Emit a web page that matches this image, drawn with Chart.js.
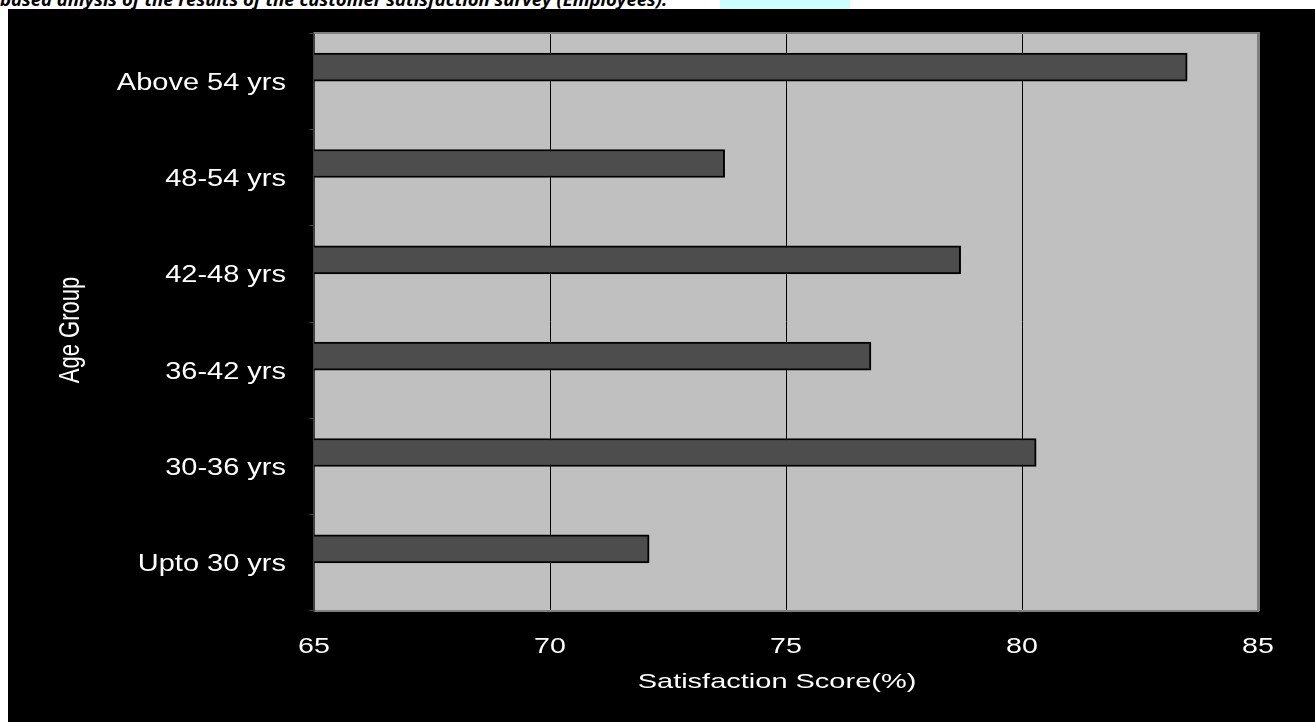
<!DOCTYPE html>
<html>
<head>
<meta charset="utf-8">
<title>Satisfaction Score by Age Group</title>
<script src="https://cdn.jsdelivr.net/npm/chart.js@4.4.0/dist/chart.umd.min.js"></script>
<style>
    html, body { margin: 0; padding: 0; background: #fff; width: 1315px; height: 722px; overflow: hidden; }
    .caption {
        position: absolute; left: 0; top: -10px;
        font: italic bold 18.5px "Open Sans", sans-serif; line-height: 18px;
        white-space: nowrap; color: #000;
    }
    .highlight { position: absolute; left: 720px; top: 0; width: 130px; height: 9px; background: #ccffff; }
    .chartBox { position: absolute; left: 8px; top: 9px; width: 1307px; height: 713px; background: #000; }
</style>
</head>
<body>
<div class="highlight"></div>
<div class="caption">based anlysis of the results of the customer satisfaction survey (Employees).</div>
<div class="chartBox"><canvas id="chart"></canvas></div>
<script>
const ageGroups = ['Upto 30 yrs', '30-36 yrs', '36-42 yrs', '42-48 yrs', '48-54 yrs', 'Above 54 yrs'];
const scores = [72.1, 80.3, 76.8, 78.7, 73.7, 83.5];
const scoreTicks = [65, 70, 75, 80, 85];

const xTitle = 'Satisfaction Score(%)';
const yTitle = 'Age Group';

// old excel charts come out wide, so text is drawn with a horizontal stretch
const wideText = (ctx, text, x, y, sx, align) => {
    ctx.save();
    ctx.translate(x, y);
    ctx.scale(sx, 1);
    ctx.textAlign = align;
    ctx.fillText(text, 0, 0);
    ctx.restore();
};

const excelLook = {
    id: 'excelLook',
    beforeDraw(chart) {
        const { ctx, chartArea: a } = chart;
        ctx.save();
        ctx.fillStyle = '#c0c0c0';
        ctx.fillRect(a.left, a.top, a.right - a.left, a.bottom - a.top);
        ctx.restore();
    },
    afterDraw(chart) {
        const { ctx, chartArea: a } = chart;
        const x = chart.scales.x;
        const y = chart.scales.y;

        // plot area frame (top and right)
        ctx.save();
        ctx.strokeStyle = '#808080';
        ctx.lineWidth = 2;
        ctx.beginPath();
        ctx.moveTo(a.left, a.top);
        ctx.lineTo(a.right, a.top);
        ctx.stroke();
        ctx.lineWidth = 3;
        ctx.beginPath();
        ctx.moveTo(a.right + 0.5, a.top - 1);
        ctx.lineTo(a.right + 0.5, a.bottom);
        ctx.stroke();

        ctx.fillStyle = '#fff';
        ctx.textBaseline = 'alphabetic';

        ctx.font = '22px "Liberation Sans", Arial, sans-serif';
        x.ticks.forEach(t => {
            wideText(ctx, String(t.value), x.getPixelForValue(t.value), a.bottom + 42, 1.3, 'center');
        });

        ctx.font = '23px "Liberation Sans", Arial, sans-serif';
        y.ticks.forEach(t => {
            wideText(ctx, y.getLabelForValue(t.value), a.left - 28, y.getPixelForValue(t.value) + 8.5, 1.26, 'right');
        });

        ctx.font = '21px "Liberation Sans", Arial, sans-serif';
        wideText(ctx, xTitle, (a.left + a.right) / 2 - 9, a.bottom + 77, 1.38, 'center');

        ctx.font = '22px "Liberation Sans", Arial, sans-serif';
        ctx.translate(71, (a.top + a.bottom) / 2 + 8);
        ctx.rotate(-Math.PI / 2);
        ctx.scale(1, 1.3);
        ctx.textAlign = 'center';
        ctx.fillText(yTitle, 0, 0);
        ctx.restore();
    }
};

const ctx = document.getElementById('chart');
new Chart(ctx, {
    type: 'bar',
    data: {
        labels: ageGroups,
        datasets: [
            {
                label: 'Satisfaction Score',
                data: scores,
                backgroundColor: '#4d4d4d',
                borderColor: '#000',
                borderWidth: 2,
                barThickness: 28
            },
            {
                // empty second series keeps the bars above the category centre
                label: '',
                data: ageGroups.map(() => null),
                barThickness: 28
            }
        ]
    },
    options: {
        indexAxis: 'y',
        responsive: true,
        maintainAspectRatio: false,
        animation: false,
        events: [],
        layout: { padding: { top: 24, right: 57, left: 0, bottom: 0 } },
        plugins: {
            legend: { display: false },
            tooltip: { enabled: false }
        },
        scales: {
            x: {
                min: scoreTicks[0],
                max: scoreTicks[scoreTicks.length - 1],
                afterBuildTicks: scale => { scale.ticks = scoreTicks.map(v => ({ value: v })); },
                afterFit: scale => { scale.height = 111; },
                ticks: { display: false },
                grid: {
                    drawTicks: false,
                    color: c => (c.tick && (c.tick.value === scoreTicks[0] || c.tick.value === scoreTicks[scoreTicks.length - 1])) ? 'rgba(0,0,0,0)' : '#000',
                    lineWidth: 1
                },
                border: { color: '#808080', width: 2 }
            },
            y: {
                reverse: true,
                afterFit: scale => { scale.width = 306; },
                ticks: { display: false },
                grid: {
                    drawOnChartArea: false,
                    drawTicks: true,
                    tickLength: 5,
                    color: '#404040'
                },
                border: { color: '#404040', width: 2 }
            }
        }
    },
    plugins: [excelLook]
});
</script>
</body>
</html>
